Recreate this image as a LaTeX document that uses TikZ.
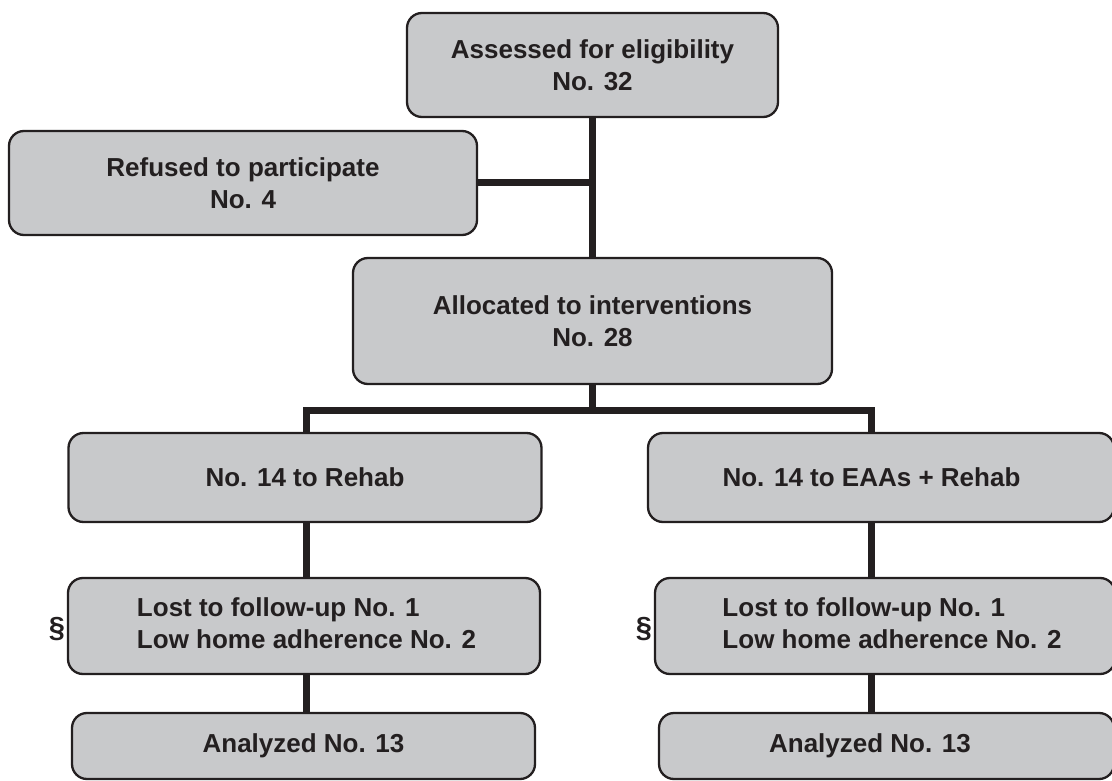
\documentclass[tikz,border=0pt]{standalone}
\usepackage{fontspec}
\setmainfont{Liberation Sans}
\definecolor{boxfill}{HTML}{C8C9CB}
\definecolor{ink}{HTML}{231F20}
\pgfdeclarelayer{background}
\pgfsetlayers{background,main}
\begin{document}
\begin{tikzpicture}[x=1pt,y=-1pt,
  box/.style={draw=ink, line width=2.3pt, fill=boxfill, rounded corners=15pt,
    inner sep=0pt, font=\fontsize{26}{32}\selectfont\bfseries, text=ink, align=center},
  link/.style={draw=ink, line width=7pt},
  mark sym/.style={font=\fontsize{29}{32}\selectfont\bfseries, text=ink, inner sep=0pt}]
\useasboundingbox (0,0) rectangle (1112,781);

\node[box, minimum width=371pt, minimum height=104pt] (top) at (592.5,65)
  {Assessed for eligibility\\No. 32};
\node[box, minimum width=468pt, minimum height=104pt] (refused) at (243,183)
  {Refused to participate\\No. 4};
\node[box, minimum width=479pt, minimum height=126pt] (alloc) at (592.5,321)
  {Allocated to interventions\\No. 28};
\node[box, minimum width=473pt, minimum height=89pt] (rehabL) at (305,477.5)
  {No. 14 to Rehab};
\node[box, minimum width=466pt, minimum height=89pt] (rehabR) at (881,477.5)
  {No. 14 to EAAs + Rehab\hspace*{19pt}};
\node[box, minimum width=472pt, minimum height=96pt] (lostL) at (304,626)
  {\hspace*{5pt}\begin{tabular}{@{}l@{}}Lost to follow-up No. 1\\Low home adherence No. 2\end{tabular}};
\node[box, minimum width=460pt, minimum height=96pt] (lostR) at (885,626)
  {\hspace*{14pt}\begin{tabular}{@{}l@{}}Lost to follow-up No. 1\\Low home adherence No. 2\end{tabular}};
\node[box, minimum width=463pt, minimum height=66pt] (anaL) at (303.5,746)
  {Analyzed No. 13};
\node[box, minimum width=455pt, minimum height=66pt] (anaR) at (886.5,746)
  {Analyzed No. 13\hspace*{33pt}};

\node[mark sym] (secL) at (57,629) {\S};
\node[mark sym] (secR) at (644,629) {\S};

\coordinate (colL) at (306,0);
\coordinate (colR) at (871,0);

\begin{pgfonlayer}{background}
  \draw[link] (top.south) -- (alloc.north);
  \draw[link] (refused.east) -- (refused.east -| top.south);
  \path (alloc.south) ++(0,25) coordinate (junc);
  \draw[link] (alloc.south) -- (junc);
  \draw[link] (colL |- rehabL.north) |- (junc) -| (colR |- rehabR.north);
  \draw[link] (colL |- rehabL.south) -- (colL |- lostL.north);
  \draw[link] (colL |- lostL.south) -- (colL |- anaL.north);
  \draw[link] (colR |- rehabR.south) -- (colR |- lostR.north);
  \draw[link] (colR |- lostR.south) -- (colR |- anaR.north);
\end{pgfonlayer}
\end{tikzpicture}
\end{document}
